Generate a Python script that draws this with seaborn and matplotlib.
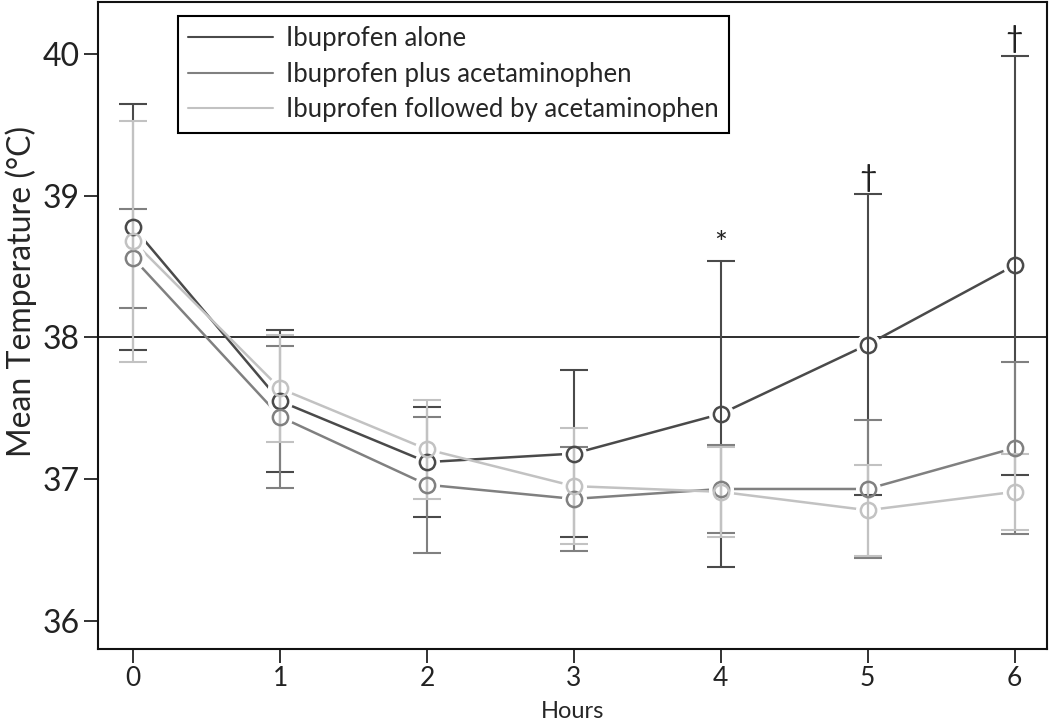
import numpy as np
import pandas as pd
import seaborn as sns
import matplotlib.pyplot as plt
from matplotlib.lines import Line2D

# data (mean temperature, +/- error bar half-length)
hours = [0, 1, 2, 3, 4, 5, 6]
groups = ['Ibuprofen alone', 'Ibuprofen plus acetaminophen',
          'Ibuprofen followed by acetaminophen']
alone_mean = [38.78, 37.55, 37.12, 37.18, 37.46, 37.95, 38.51]
alone_err = [0.87, 0.50, 0.39, 0.59, 1.08, 1.06, 1.48]
plus_mean = [38.56, 37.44, 36.96, 36.86, 36.93, 36.93, 37.22]
plus_err = [0.35, 0.50, 0.48, 0.37, 0.31, 0.49, 0.61]
followed_mean = [38.68, 37.64, 37.21, 36.95, 36.91, 36.78, 36.91]
followed_err = [0.85, 0.38, 0.35, 0.41, 0.32, 0.32, 0.27]
# significance marks on the "alone" series
marks = {4: '*', 5: '\u2020', 6: '\u2020'}

colors = ['#4a4a4a', '#808080', '#c2c2c2']

df = pd.DataFrame({
    'Hours': hours * 3,
    'Temp': alone_mean + plus_mean + followed_mean,
    'Err': alone_err + plus_err + followed_err,
    'Group': np.repeat(groups, len(hours)),
})

sns.set_theme(style='ticks')
plt.rcParams['font.family'] = ['Lato', 'DejaVu Sans']

fig = plt.figure(figsize=(10.5, 7.23), dpi=100)
ax = fig.add_axes([0.0933, 0.1024, 0.9037, 0.8949])

# fever threshold
ax.axhline(38, color='#2e2e2e', lw=1.4, zorder=1)

sns.lineplot(data=df, x='Hours', y='Temp', hue='Group', hue_order=groups,
             palette=colors, lw=1.8, legend=False, ax=ax, zorder=2)

for g, c in zip(groups, colors):
    sub = df[df['Group'] == g]
    # white halo so the lines stop short of the circles
    ax.plot(sub['Hours'], sub['Temp'], 'o', ms=17, mfc='white', mec='white', zorder=3)
for g, c in zip(groups, colors):
    sub = df[df['Group'] == g]
    ax.errorbar(sub['Hours'], sub['Temp'], yerr=sub['Err'], fmt='none',
                ecolor=c, elinewidth=1.5, capsize=10, capthick=1.5, zorder=4)
    ax.plot(sub['Hours'], sub['Temp'], 'o', ms=11, mfc='none', mec=c, mew=1.8, zorder=5)

for h, m in marks.items():
    i = hours.index(h)
    ax.annotate(m, (h, alone_mean[i] + alone_err[i]), xytext=(0, 2),
                textcoords='offset points', ha='center', va='bottom',
                fontsize=22, color='#222222')

ax.set_xlim(-0.24, 6.22)
ax.set_ylim(35.80, 40.37)
ax.set_xticks(hours)
ax.set_yticks([36, 37, 38, 39, 40])
ax.set_xlabel('Hours', fontsize=17, va='bottom')
ax.xaxis.set_label_coords(0.5, -0.1135)
ax.set_ylabel('Mean Temperature (\u00b0C)', fontsize=23)
ax.yaxis.set_label_coords(-0.064, 0.553)
ax.tick_params(axis='both', length=10, width=1.3, direction='out', colors='#222222')
ax.tick_params(axis='x', labelsize=19, pad=2)
ax.tick_params(axis='y', labelsize=23, pad=3)
for s in ax.spines.values():
    s.set_visible(True)
    s.set_linewidth(1.5)
    s.set_color('#111111')

handles = [Line2D([], [], color=c, lw=1.5) for c in colors]
leg = ax.legend(handles, groups, loc='upper left', bbox_to_anchor=(0.084, 0.979),
                borderaxespad=0, fontsize=18.5, handlelength=3.3, handletextpad=0.5,
                labelspacing=0.42, fancybox=False, framealpha=1, borderpad=0.4)
leg.get_frame().set_edgecolor('black')
leg.get_frame().set_linewidth(1.5)

plt.savefig('out.png', dpi=100)
